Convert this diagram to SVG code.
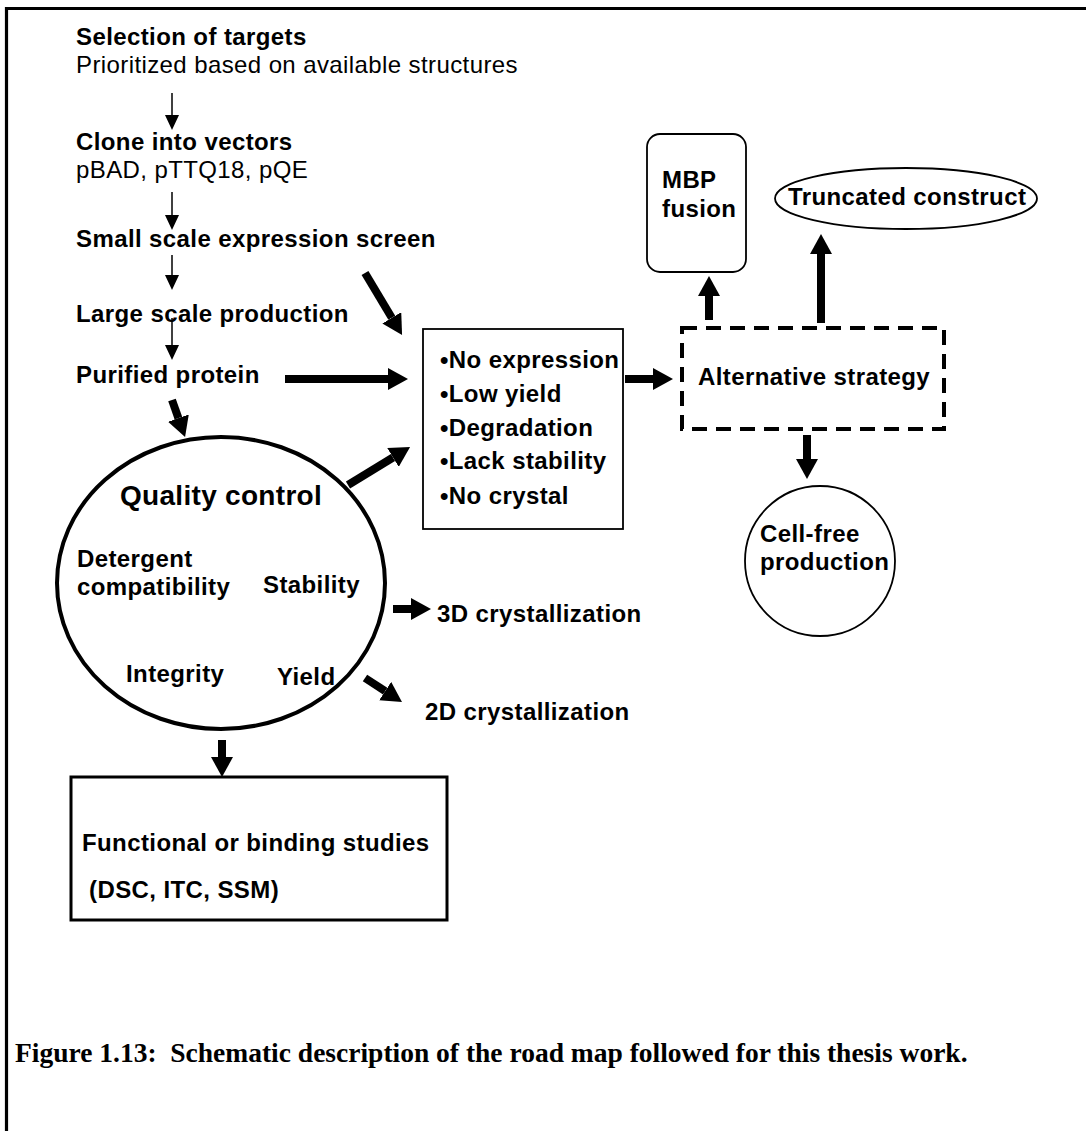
<svg xmlns="http://www.w3.org/2000/svg" width="1086" height="1131" viewBox="0 0 1086 1131">
<style>
  .b { font-family: "Liberation Sans", Arial, Helvetica, sans-serif; font-weight: bold; font-size: 24px; letter-spacing: 0.4px; fill: #000; }
  .r { font-family: "Liberation Sans", Arial, Helvetica, sans-serif; font-size: 24px; letter-spacing: 0.4px; fill: #000; }
  .qc { font-family: "Liberation Sans", Arial, Helvetica, sans-serif; font-weight: bold; font-size: 28px; letter-spacing: 0.3px; fill: #000; }
  .cap { font-family: "Liberation Serif", "Times New Roman", serif; font-weight: bold; font-size: 27.5px; fill: #000; }
  .thin { stroke: #000; stroke-width: 1.5; fill: none; }
  .thick { stroke: #000; stroke-width: 8; fill: none; }
  .shape { fill: #fff; stroke: #000; }
</style>
<defs>
  <marker id="hthin" markerUnits="userSpaceOnUse" markerWidth="15" markerHeight="14" viewBox="0 0 15 14" refX="0" refY="7" orient="auto">
    <path d="M0,0 L15,7 L0,14 z" fill="#000"/>
  </marker>
  <marker id="hthick" markerUnits="userSpaceOnUse" markerWidth="20" markerHeight="22" viewBox="0 0 20 22" refX="0" refY="11" orient="auto">
    <path d="M0,0 L20,11 L0,22 z" fill="#000"/>
  </marker>
</defs>
<rect width="1086" height="1131" fill="#fff"/>
<path d="M6.5,1131 V8.5 H1086" fill="none" stroke="#000" stroke-width="3.2"/>

<g id="selection">
  <text class="b" x="76" y="45">Selection of targets</text>
  <text class="r" x="76" y="73">Prioritized based on available structures</text>
</g>
<g id="clone">
  <text class="b" x="76" y="150">Clone into vectors</text>
  <text class="r" x="76" y="178">pBAD, pTTQ18, pQE</text>
</g>
<g id="small-scale">
  <text class="b" x="76" y="247">Small scale expression screen</text>
</g>
<g id="large-scale">
  <text class="b" x="76" y="322">Large scale production</text>
</g>
<g id="purified">
  <text class="b" x="76" y="383">Purified protein</text>
</g>

<g id="problems">
  <rect class="shape" x="423" y="329" width="200" height="200" stroke-width="1.8"/>
  <text class="b" x="440" y="368">•No expression</text>
  <text class="b" x="440" y="402">•Low yield</text>
  <text class="b" x="440" y="436">•Degradation</text>
  <text class="b" x="440" y="469">•Lack stability</text>
  <text class="b" x="440" y="504">•No crystal</text>
</g>

<g id="alternative">
  <rect x="682" y="328" width="262" height="101" fill="none" stroke="#000" stroke-width="4" stroke-dasharray="15 9"/>
  <text class="b" x="698" y="385">Alternative strategy</text>
</g>

<g id="mbp">
  <rect class="shape" x="647" y="134" width="99" height="138" rx="13" ry="13" stroke-width="1.8"/>
  <text class="b" x="662" y="188">MBP</text>
  <text class="b" x="662" y="217">fusion</text>
</g>

<g id="truncated">
  <ellipse class="shape" cx="906" cy="198.5" rx="131" ry="30.5" stroke-width="1.8"/>
  <text class="b" x="788" y="205">Truncated construct</text>
</g>

<g id="cellfree">
  <circle class="shape" cx="820" cy="561" r="75" stroke-width="1.8"/>
  <text class="b" x="760" y="542">Cell-free</text>
  <text class="b" x="760" y="570">production</text>
</g>

<g id="quality-control">
  <ellipse cx="221" cy="583" rx="164" ry="146" fill="none" stroke="#000" stroke-width="4"/>
  <text class="qc" x="120" y="505">Quality control</text>
  <text class="b" x="77" y="567">Detergent</text>
  <text class="b" x="77" y="595">compatibility</text>
  <text class="b" x="263" y="593">Stability</text>
  <text class="b" x="126" y="682">Integrity</text>
  <text class="b" x="277" y="685">Yield</text>
</g>

<g id="crystal3d">
  <text class="b" x="437" y="622">3D crystallization</text>
</g>
<g id="crystal2d">
  <text class="b" x="425" y="720">2D crystallization</text>
</g>

<g id="functional">
  <rect class="shape" x="71" y="777" width="376" height="143" stroke-width="3"/>
  <text class="b" x="82" y="851">Functional or binding studies</text>
  <text class="b" x="82" y="898" xml:space="preserve"> (DSC, ITC, SSM)</text>
</g>

<g id="connectors">
  <line class="thin" x1="172" y1="93" x2="172" y2="115" marker-end="url(#hthin)"/>
  <line class="thin" x1="172" y1="192" x2="172" y2="215" marker-end="url(#hthin)"/>
  <line class="thin" x1="172" y1="255" x2="172" y2="275" marker-end="url(#hthin)"/>
  <line class="thin" x1="172" y1="318" x2="172" y2="345" marker-end="url(#hthin)"/>

  <line class="thick" x1="285" y1="379" x2="388" y2="379" marker-end="url(#hthick)"/>
  <line class="thick" x1="365" y1="273" x2="391.8" y2="317.8" marker-end="url(#hthick)"/>
  <line class="thick" x1="348" y1="485" x2="393" y2="457.5" marker-end="url(#hthick)"/>
  <line class="thick" x1="172" y1="400" x2="178.4" y2="418.1" marker-end="url(#hthick)"/>
  <line class="thick" x1="625" y1="379" x2="653" y2="379" marker-end="url(#hthick)"/>
  <line class="thick" x1="393" y1="609" x2="411" y2="609" marker-end="url(#hthick)"/>
  <line class="thick" x1="365" y1="678" x2="385.2" y2="691.1" marker-end="url(#hthick)"/>
  <line class="thick" x1="222" y1="740" x2="222" y2="757" marker-end="url(#hthick)"/>
  <line class="thick" x1="709" y1="320" x2="709" y2="296" marker-end="url(#hthick)"/>
  <line class="thick" x1="821" y1="323" x2="821" y2="254" marker-end="url(#hthick)"/>
  <line class="thick" x1="807" y1="435" x2="807" y2="459" marker-end="url(#hthick)"/>
</g>

<g id="caption">
  <text class="cap" x="15" y="1062" xml:space="preserve">Figure 1.13:  Schematic description of the road map followed for this thesis work.</text>
</g>
</svg>
